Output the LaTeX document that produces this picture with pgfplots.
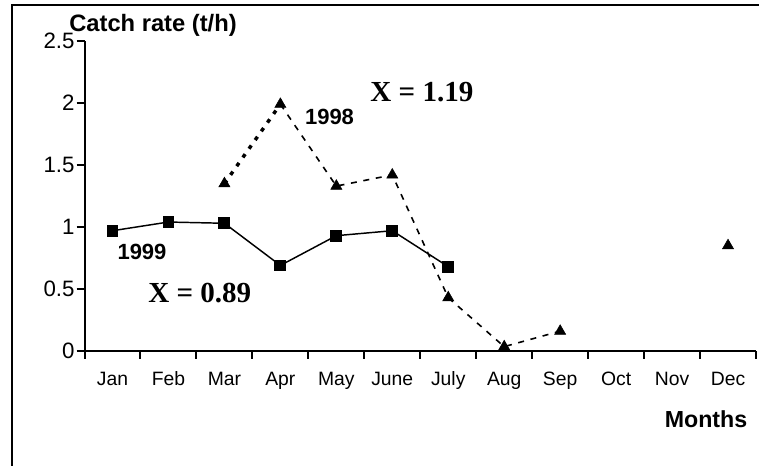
\documentclass[border=0pt]{standalone}
\usepackage{fontspec}
\setmainfont{Liberation Sans}
\newfontfamily\timesb{Liberation Serif}
\usepackage{pgfplots}
\pgfplotsset{compat=1.18}
\begin{document}
\begin{tikzpicture}
\useasboundingbox (0,0) rectangle (569.25pt,349.5pt);
\draw[line width=1.5pt] (9pt,-2pt) -- (9pt,345.75pt) -- (572pt,345.75pt);
\begin{axis}[
  at={(63.4pt,86.25pt)}, anchor=south west,
  scale only axis, width=503.6pt, height=232.5pt,
  xmin=-0.5, xmax=11.5, ymin=0, ymax=2.5,
  axis lines=left,
  axis line style={line width=1.5pt,-},
  every outer x axis line/.append style={-},
  every outer y axis line/.append style={-},
  xtick={0,...,11},
  xticklabels={Jan,Feb,Mar,Apr,May,June,July,Aug,Sep,Oct,Nov,Dec},
  major x tick style={draw=none},
  minor xtick={-0.5,0.5,...,11.5},
  ytick={0,0.5,1,1.5,2,2.5},
  yticklabels={0,0.5,1,1.5,2,2.5},
  tick align=outside,
  major tick length=6pt, minor tick length=6pt,
  tick style={line width=1.5pt,black},
  xticklabel style={font=\fontsize{14.5}{14.5}\selectfont, text height=10.4pt, text depth=3pt, yshift=-6pt},
  yticklabel style={font=\fontsize{16.7}{16.7}\selectfont, xshift=2pt},
  clip=false,
  unbounded coords=jump,
]
% 1999
\addplot[black, line width=1.1pt, mark=square*, mark size=3.9pt, mark options={solid}]
  coordinates {(0,0.97) (1,1.04) (2,1.03) (3,0.69) (4,0.93) (5,0.97) (6,0.68)};
% 1998 line segments
\addplot[black, line width=2.6pt, dash pattern=on 3pt off 5pt, no marks]
  coordinates {(2,1.35) (3,1.99)};
\addplot[black, line width=1.2pt, dash pattern=on 4.5pt off 5pt, no marks]
  coordinates {(3,1.99) (4,1.33) (5,1.42) (6,0.43) (7,0.035) (8,0.16)};
% 1998 markers
\addplot[black, only marks, mark=triangle*, mark size=4.8pt]
  coordinates {(2,1.35) (3,1.99) (4,1.33) (5,1.42) (6,0.43) (7,0.035) (8,0.16) (9,nan) (10,nan) (11,0.85)};
\node[font=\bfseries\fontsize{16.5}{16.5}\selectfont] at (axis cs:3.878,1.89) {1998};
\node[font=\timesb\bfseries\fontsize{21.8}{21.8}\selectfont] at (axis cs:5.53,2.09) {X = 1.19};
\node[font=\bfseries\fontsize{16.5}{16.5}\selectfont] at (axis cs:0.527,0.80) {1999};
\node[font=\timesb\bfseries\fontsize{21.8}{21.8}\selectfont] at (axis cs:1.56,0.47) {X = 0.89};
\end{axis}
\node[font=\bfseries\fontsize{17.8}{17.8}\selectfont] at (114.75pt,330.75pt) {Catch rate (t/h)};
\node[font=\bfseries\fontsize{17.4}{17.4}\selectfont] at (529.5pt,35.25pt) {Months};
\end{tikzpicture}
\end{document}
